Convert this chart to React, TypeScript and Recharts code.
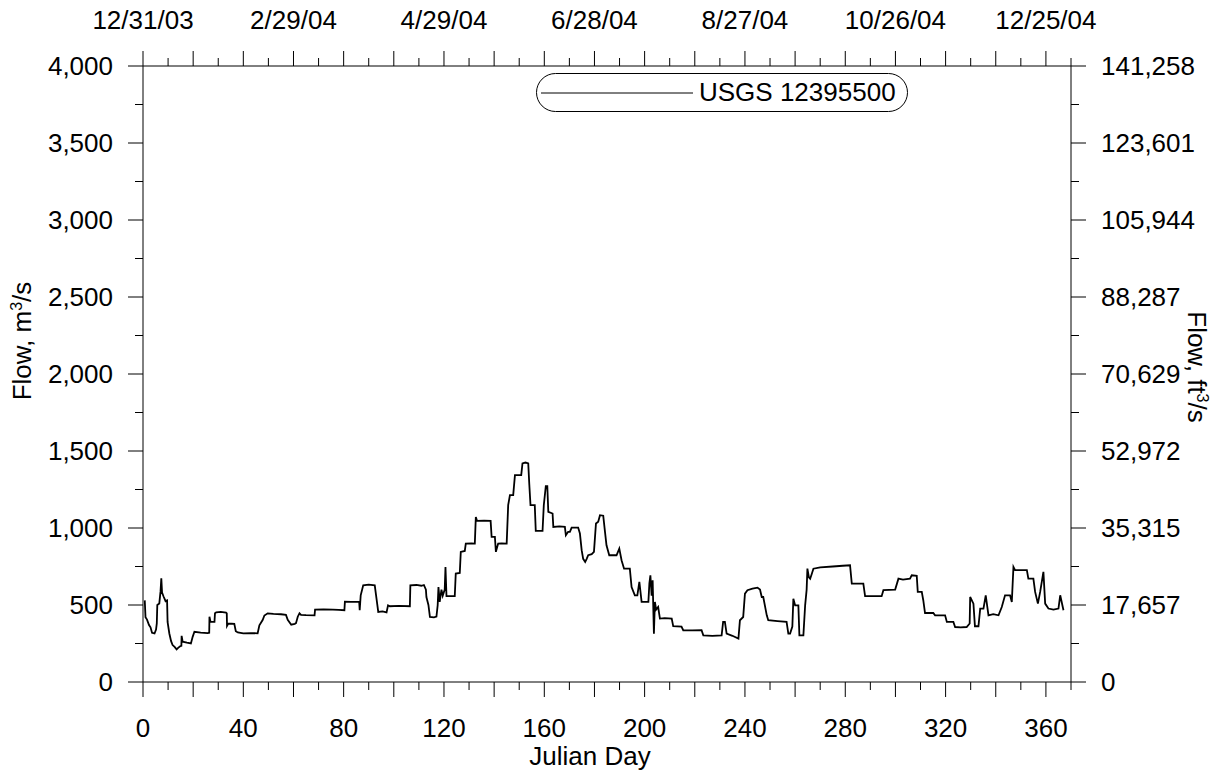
import React from "react";
import { Legend, Line, LineChart, XAxis, YAxis } from "recharts";

// Julian day / flow (m3/s) pairs
const julianDay = [
  0.7, 1.0, 1.6, 2.4, 3.0, 3.6, 4.6, 5.2, 5.5, 5.7, 6.5, 7.0, 7.3, 7.6, 8.2, 9.0, 9.6, 9.8, 10.5, 11.2,
  11.8, 12.6, 13.4, 14.0, 14.8, 15.3, 15.4, 15.8, 17.5, 19.1, 19.8, 20.5, 23.0, 25.8, 26.4, 26.5, 26.9, 28.5, 28.7, 29.2,
  31.0, 33.1, 33.4, 33.5, 34.0, 36.4, 37.0, 37.8, 40, 43, 45.7, 46.4, 47.7, 48.4, 49.7, 52, 55, 57, 57.7, 59.1,
  60.5, 61.0, 61.7, 62.4, 63, 65, 68.4, 68.6, 72, 75.7, 78, 80.3, 80.5, 83, 86.2, 86.4, 86.8, 87.8, 90, 92.4,
  93.1, 93.8, 95.5, 97.1, 97.7, 98.4, 102, 106.4, 106.6, 109, 111, 112, 112.8, 113, 113.8, 114.4, 116, 117, 117.5, 117.8,
  118.3, 119, 119.5, 120.3, 120.6, 121, 123, 124.3, 124.7, 126.3, 126.7, 128.3, 128.7, 131, 132.3, 132.7, 133.2, 136, 138.6, 139,
  140.3, 140.7, 141.6, 143, 145, 145.6, 146.3, 147.6, 148.3, 150.8, 151.3, 152.5, 153.6, 154, 154.5, 156.2, 156.6, 159.3, 159.8, 160.6,
  161.2, 161.6, 163.3, 163.6, 166, 168.2, 168.6, 169.5, 170.2, 170.9, 173.5, 174.2, 174.9, 175.5, 176.3, 176.9, 177.5, 178.9, 179.8, 180.6,
  181.5, 182.2, 183.5, 184.2, 184.8, 185.9, 188.8, 189.9, 190.8, 191.8, 194.1, 194.8, 196.1, 197.1, 197.9, 198.8, 201.5, 201.9, 202.3, 202.8,
  203.2, 203.7, 204.1, 204.6, 205.4, 206.1, 208, 210.8, 211.4, 214.7, 215.4, 219, 222.7, 223.4, 227, 230.7, 231.3, 232, 232.7, 235,
  237.4, 238, 239.3, 240, 241, 243, 245, 246, 246.7, 247.3, 248.7, 249.3, 253, 256.6, 257.3, 258, 258.9, 259.3, 260, 261.3,
  261.7, 263.3, 264, 264.6, 264.9, 265.5, 266, 266.6, 267.3, 270, 275, 279, 281.9, 282.6, 287.2, 287.9, 291, 294.5, 295.2, 299.9,
  301.2, 303, 305.8, 306.5, 308.5, 308.9, 310.5, 311.1, 311.8, 315.1, 315.8, 319.8, 320.5, 323.1, 323.8, 326, 328.4, 329.6, 329.8, 331.1,
  331.7, 333.1, 333.8, 335.1, 336, 337.1, 339, 341.1, 342.4, 343.7, 345.7, 346.4, 347.05, 347.7, 350, 352.4, 353, 355, 355.7, 356.8,
  357.7, 359, 359.7, 361, 363, 365, 365.7, 367,
];
const flowCms = [
  530, 420, 405, 370, 355, 320, 315, 340, 380, 500, 510, 590, 674, 580, 555, 525, 530, 390, 315, 265,
  240, 228, 212, 222, 232, 235, 300, 262, 255, 250, 293, 326, 320, 318, 320, 424, 392, 391, 446, 452,
  455, 450, 445, 365, 380, 378, 330, 322, 316, 318, 316, 368, 402, 432, 446, 442, 440, 436, 404, 372,
  378, 382, 424, 446, 436, 434, 433, 470, 472, 470, 468, 466, 522, 520, 522, 466, 563, 628, 632, 628,
  541, 455, 458, 452, 498, 492, 494, 492, 628, 630, 625, 630, 600, 552, 500, 422, 420, 425, 500, 617,
  520, 600, 560, 600, 747, 557, 557, 557, 704, 708, 845, 851, 899, 900, 899, 1072, 1046, 1048, 1046, 942,
  942, 845, 899, 900, 899, 1148, 1213, 1213, 1343, 1343, 1419, 1425, 1419, 1289, 1148, 1148, 981, 981, 1148, 1271,
  1271, 1105, 1094, 1007, 1010, 1007, 953, 975, 975, 1003, 1003, 964, 856, 800, 780, 800, 823, 830, 845, 1029,
  1040, 1083, 1080, 975, 888, 823, 823, 866, 791, 736, 736, 617, 563, 563, 650, 520, 520, 640, 693, 560,
  660, 314, 520, 470, 487, 412, 415, 412, 362, 360, 336, 335, 336, 303, 300, 303, 390, 390, 314, 300,
  282, 401, 422, 574, 596, 606, 613, 600, 552, 552, 433, 401, 395, 390, 314, 314, 360, 541, 498, 498,
  303, 303, 498, 600, 736, 680, 671, 700, 736, 745, 750, 755, 758, 639, 639, 557, 557, 557, 596, 600,
  671, 665, 671, 693, 690, 585, 585, 531, 448, 448, 433, 433, 390, 390, 357, 355, 357, 380, 552, 509,
  362, 362, 477, 477, 563, 433, 440, 433, 487, 563, 563, 520, 747, 726, 726, 726, 671, 671, 585, 509,
  585, 715, 509, 477, 470, 477, 563, 466,
];

const xTicks = [
  0, 10, 20, 30, 40, 50, 60, 70, 80, 90, 100, 110, 120, 130, 140, 150, 160, 170, 180, 190,
  200, 210, 220, 230, 240, 250, 260, 270, 280, 290, 300, 310, 320, 330, 340, 350, 360, 370,
];
const yTicks = [0, 250, 500, 750, 1000, 1250, 1500, 1750, 2000, 2250, 2500, 2750, 3000, 3250, 3500, 3750, 4000];
const topDateDays = [0, 60, 120, 180, 240, 300, 360];
const topDateLabels = ["12/31/03", "2/29/04", "4/29/04", "6/28/04", "8/27/04", "10/26/04", "12/25/04"];
const rightTickLabels = ["0", "17,657", "35,315", "52,972", "70,629", "88,287", "105,944", "123,601", "141,258"];
const seriesName = "USGS 12395500";

const data = julianDay.map((d, i) => ({ day: d, flow: flowCms[i] }));

const FONT = "'Liberation Sans', Arial, sans-serif";
const FS = 26;

function BottomTick(props: any) {
  const { x, y, payload } = props;
  const v = payload.value;
  return (
    <g>
      <line x1={x} y1={y} x2={x} y2={y + (v % 20 === 0 ? 15 : 8)} stroke="#000" />
      {v % 40 === 0 && (
        <text x={x} y={y + 55} textAnchor="middle" fontSize={FS} fontFamily={FONT} fill="#000">
          {v}
        </text>
      )}
    </g>
  );
}

function TopTick(props: any) {
  const { x, y, payload } = props;
  const v = payload.value;
  const i = topDateDays.indexOf(v);
  return (
    <g>
      <line x1={x} y1={y} x2={x} y2={y - (v % 20 === 0 ? 15 : 8)} stroke="#000" />
      {i >= 0 && (
        <text x={x} y={y - 37} textAnchor="middle" fontSize={FS} fontFamily={FONT} fill="#000">
          {topDateLabels[i]}
        </text>
      )}
    </g>
  );
}

function LeftTick(props: any) {
  const { x, y, payload } = props;
  const v = payload.value;
  const major = v % 500 === 0;
  return (
    <g>
      <line x1={x} y1={y} x2={x - (major ? 15 : 8)} y2={y} stroke="#000" />
      {major && (
        <text x={x - 30} y={y + 9} textAnchor="end" fontSize={FS} fontFamily={FONT} fill="#000">
          {v.toLocaleString("en-US")}
        </text>
      )}
    </g>
  );
}

function RightTick(props: any) {
  const { x, y, payload } = props;
  const v = payload.value;
  const major = v % 500 === 0;
  return (
    <g>
      <line x1={x} y1={y} x2={x + (major ? 15 : 8)} y2={y} stroke="#000" />
      {major && (
        <text x={x + 30} y={y + 9} textAnchor="start" fontSize={FS} fontFamily={FONT} fill="#000">
          {rightTickLabels[v / 500]}
        </text>
      )}
    </g>
  );
}

function LegendBox() {
  return (
    <div
      style={{
        boxSizing: "border-box",
        width: 372,
        height: 39,
        border: "1px solid #000",
        borderRadius: 20,
        background: "#fff",
        display: "flex",
        alignItems: "center",
        fontFamily: FONT,
        fontSize: FS,
        color: "#000",
      }}
    >
      <svg width={156} height={10} style={{ marginLeft: 4 }}>
        <line x1={0} y1={5} x2={152} y2={5} stroke="#000" strokeWidth={1} />
      </svg>
      <span style={{ marginLeft: 2 }}>{seriesName}</span>
    </div>
  );
}

const title: React.CSSProperties = {
  position: "absolute",
  fontFamily: FONT,
  fontSize: FS,
  color: "#000",
  whiteSpace: "nowrap",
  lineHeight: 1,
};

export default function App() {
  return (
    <div style={{ position: "relative", width: 1216, height: 772, background: "#fff" }}>
      <style>{"body{margin:0}"}</style>
      <LineChart width={1216} height={772} data={data} margin={{ top: 16, right: 75, bottom: 30, left: 83 }}>
        <XAxis
          xAxisId="bottom"
          dataKey="day"
          type="number"
          domain={[0, 370]}
          ticks={xTicks}
          interval={0}
          tickSize={0}
          tickMargin={0}
          tick={(p: any) => <BottomTick {...p} />}
          height={60}
          axisLine={{ stroke: "#000" }}
          allowDataOverflow
        />
        <XAxis
          xAxisId="top"
          orientation="top"
          dataKey="day"
          type="number"
          domain={[0, 370]}
          ticks={xTicks}
          interval={0}
          tickSize={0}
          tickMargin={0}
          tick={(p: any) => <TopTick {...p} />}
          height={50}
          axisLine={{ stroke: "#000" }}
          allowDataOverflow
        />
        <YAxis
          yAxisId="left"
          domain={[0, 4000]}
          ticks={yTicks}
          interval={0}
          tickSize={0}
          tickMargin={0}
          tick={(p: any) => <LeftTick {...p} />}
          width={60}
          axisLine={{ stroke: "#000" }}
          allowDataOverflow
        />
        <YAxis
          yAxisId="right"
          orientation="right"
          domain={[0, 4000]}
          ticks={yTicks}
          interval={0}
          tickSize={0}
          tickMargin={0}
          tick={(p: any) => <RightTick {...p} />}
          width={70}
          axisLine={{ stroke: "#000" }}
          allowDataOverflow
        />
        <Line
          xAxisId="bottom"
          yAxisId="left"
          type="linear"
          dataKey="flow"
          name={seriesName}
          stroke="#000"
          strokeWidth={1.8}
          dot={false}
          isAnimationActive={false}
        />
        <Legend
          layout="vertical"
          align="center"
          verticalAlign="middle"
          wrapperStyle={{ top: 73, left: 536, width: 372, height: 39 }}
          content={() => <LegendBox />}
        />
      </LineChart>
      <div style={{ ...title, left: 590, top: 756, transform: "translate(-50%, -50%)" }}>Julian Day</div>
      <div style={{ ...title, left: 22, top: 341, transform: "translate(-50%, -50%) rotate(-90deg)" }}>
        Flow, m<sup style={{ fontSize: 16 }}>3</sup>/s
      </div>
      <div style={{ ...title, left: 1197, top: 367, transform: "translate(-50%, -50%) rotate(90deg)" }}>
        Flow, ft<sup style={{ fontSize: 16 }}>3</sup>/s
      </div>
    </div>
  );
}
